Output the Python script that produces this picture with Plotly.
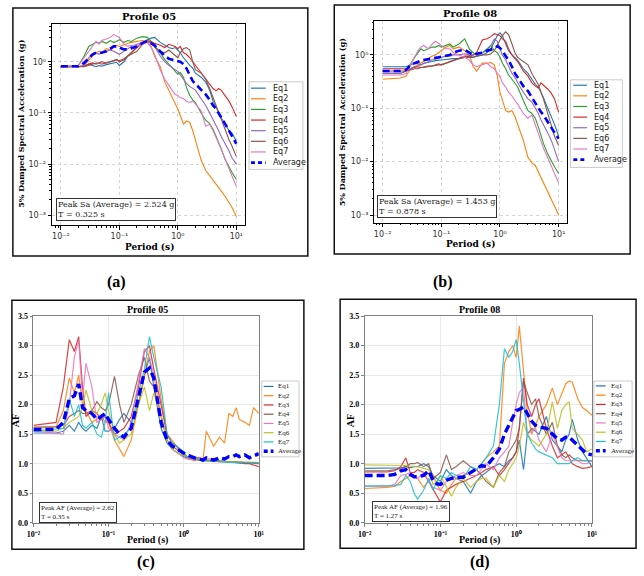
import plotly.graph_objects as go

# ---------------- data ----------------
PERIODS = [0.01, 0.02, 0.025, 0.03, 0.035, 0.04, 0.045, 0.05,
           0.06, 0.07, 0.08, 0.09, 0.1, 0.12, 0.14, 0.16,
           0.2, 0.25, 0.3, 0.35, 0.4, 0.5, 0.6, 0.7,
           0.8, 0.9, 1.0, 1.1, 1.25, 1.4, 1.6, 1.8,
           2.0, 2.5, 3.0, 3.5, 4.0, 4.5, 5.0, 5.5,
           6.5, 7.5, 8.5, 10.0]

NAMES = ["Eq1", "Eq2", "Eq3", "Eq4", "Eq5", "Eq6", "Eq7", "Average"]

# Panel (a): Profile 05 spectral acceleration (g)
SA05_EQ1 = [0.80, 0.80, 0.82, 0.90, 0.85, 0.80, 0.85, 0.82,
            0.88, 0.92, 0.95, 0.98, 0.85, 1.00, 1.30, 1.50,
            2.00, 2.40, 2.70, 2.90, 3.00, 2.40, 2.10, 1.90,
            1.80, 1.90, 1.70, 1.50, 1.20, 1.00, 0.85, 0.75,
            0.60, 0.50, 0.40, 0.28, 0.17, 0.13, 0.10, 0.08,
            0.06, 0.045, 0.040, 0.028]
SA05_EQ2 = [0.80, 0.80, 0.85, 1.10, 1.30, 1.50, 1.60, 1.50,
            1.80, 1.70, 1.90, 2.10, 2.00, 2.20, 2.30, 2.40,
            2.50, 2.60, 2.50, 2.00, 1.30, 0.80, 0.40, 0.28,
            0.20, 0.15, 0.12, 0.09, 0.06, 0.07, 0.065, 0.045,
            0.030, 0.012, 0.0075, 0.006, 0.0048, 0.0042, 0.0035, 0.003,
            0.0023, 0.0018, 0.0014, 0.00095]
SA05_EQ3 = [0.80, 0.85, 1.30, 2.00, 2.20, 2.40, 2.30, 2.50,
            2.30, 2.60, 2.40, 2.50, 2.70, 2.40, 2.60, 2.50,
            2.90, 3.10, 3.00, 2.50, 2.00, 1.50, 1.10, 0.90,
            0.75, 0.65, 0.57, 0.62, 0.50, 0.32, 0.22, 0.18,
            0.16, 0.10, 0.072, 0.062, 0.048, 0.035, 0.025, 0.020,
            0.012, 0.0085, 0.0068, 0.005]
SA05_EQ4 = [0.80, 0.80, 0.82, 0.90, 0.95, 0.90, 0.95, 1.00,
            0.95, 1.00, 1.05, 1.10, 1.00, 1.10, 1.30, 1.50,
            1.90, 2.30, 2.60, 2.50, 2.30, 2.10, 1.90, 2.20,
            2.10, 2.00, 1.80, 2.00, 1.50, 1.40, 1.20, 1.00,
            0.85, 0.60, 0.45, 0.35, 0.30, 0.27, 0.30, 0.28,
            0.22, 0.17, 0.13, 0.085]
SA05_EQ5 = [0.80, 0.80, 0.85, 1.20, 1.40, 1.50, 1.40, 1.50,
            1.60, 1.70, 1.60, 1.50, 1.40, 1.60, 1.80, 2.00,
            2.20, 2.40, 2.50, 2.30, 2.00, 1.30, 1.00, 0.85,
            0.75, 0.70, 0.65, 0.55, 0.45, 0.38, 0.33, 0.30,
            0.28, 0.19, 0.14, 0.10, 0.075, 0.060, 0.045, 0.035,
            0.025, 0.018, 0.013, 0.010]
SA05_EQ6 = [0.80, 0.80, 0.80, 0.85, 0.90, 0.95, 0.95, 0.90,
            0.95, 1.00, 1.05, 1.10, 1.05, 1.15, 1.30, 1.40,
            1.60, 2.20, 2.60, 2.40, 2.00, 1.60, 1.50, 1.70,
            1.50, 1.30, 1.20, 1.50, 1.80, 1.90, 1.70, 1.00,
            0.70, 0.60, 0.45, 0.30, 0.20, 0.15, 0.10, 0.075,
            0.045, 0.030, 0.022, 0.014]
SA05_EQ7 = [0.80, 0.85, 1.20, 1.60, 2.00, 2.50, 2.20, 2.60,
            2.80, 3.00, 3.40, 3.20, 3.00, 2.20, 2.00, 2.10,
            2.00, 2.20, 2.40, 1.90, 1.40, 0.70, 0.45, 0.35,
            0.28, 0.23, 0.22, 0.20, 0.19, 0.17, 0.16, 0.17,
            0.15, 0.11, 0.055, 0.060, 0.045, 0.034, 0.025, 0.020,
            0.012, 0.008, 0.0058, 0.0037]
SA05_AVG = [0.82, 0.82, 0.95, 1.20, 1.40, 1.50, 1.50, 1.50,
            1.60, 1.80, 2.00, 2.00, 1.90, 1.75, 1.75, 1.85,
            2.00, 2.35, 2.52, 2.30, 2.10, 1.60, 1.30, 1.15,
            1.10, 1.08, 1.05, 1.00, 0.90, 0.75, 0.55, 0.42,
            0.37, 0.29, 0.23, 0.18, 0.14, 0.12, 0.10, 0.08,
            0.06, 0.045, 0.035, 0.025]

# Panel (b): Profile 08 spectral acceleration (g)
SA08_EQ1 = [0.60, 0.60, 0.60, 0.65, 0.70, 0.68, 0.65, 0.70,
            0.72, 0.75, 0.78, 0.80, 0.80, 0.82, 0.85, 0.85,
            0.85, 0.90, 0.95, 0.90, 0.95, 1.00, 1.10, 1.30,
            1.70, 2.30, 2.60, 2.30, 1.60, 1.20, 1.00, 0.90,
            0.80, 0.55, 0.45, 0.35, 0.28, 0.25, 0.20, 0.16,
            0.10, 0.07, 0.05, 0.03]
SA08_EQ2 = [0.35, 0.37, 0.40, 0.55, 0.60, 0.65, 0.70, 0.75,
            0.85, 0.95, 1.00, 1.10, 1.20, 1.40, 1.50, 1.30,
            1.40, 1.20, 1.00, 0.60, 0.50, 0.70, 0.70, 0.72,
            0.65, 0.40, 0.20, 0.14, 0.09, 0.085, 0.09, 0.07,
            0.05, 0.025, 0.012, 0.0095, 0.0085, 0.0065, 0.005, 0.004,
            0.0028, 0.002, 0.0015, 0.001]
SA08_EQ3 = [0.45, 0.45, 0.50, 0.70, 0.90, 1.10, 1.30, 1.20,
            1.30, 1.40, 1.40, 1.50, 1.40, 1.50, 1.60, 1.40,
            1.60, 2.00, 1.30, 1.10, 1.00, 1.10, 1.30, 1.50,
            1.20, 1.10, 0.90, 0.70, 0.55, 0.42, 0.35, 0.30,
            0.25, 0.14, 0.09, 0.08, 0.065, 0.045, 0.030, 0.022,
            0.014, 0.010, 0.008, 0.006]
SA08_EQ4 = [0.55, 0.55, 0.55, 0.55, 0.58, 0.60, 0.58, 0.60,
            0.62, 0.62, 0.65, 0.68, 0.65, 0.70, 0.75, 0.80,
            0.85, 0.95, 0.95, 1.00, 1.10, 1.90, 2.00, 2.20,
            2.50, 2.40, 2.30, 2.00, 1.80, 1.30, 1.00, 0.85,
            0.75, 0.50, 0.40, 0.30, 0.26, 0.24, 0.30, 0.27,
            0.23, 0.19, 0.15, 0.085]
SA08_EQ5 = [0.45, 0.45, 0.50, 0.55, 0.60, 0.62, 0.65, 0.70,
            0.75, 0.80, 0.85, 0.85, 0.90, 0.95, 0.95, 1.00,
            1.00, 1.05, 1.00, 1.00, 1.05, 1.10, 1.20, 1.50,
            2.00, 1.80, 1.30, 1.00, 0.80, 0.60, 0.45, 0.38,
            0.30, 0.20, 0.15, 0.13, 0.10, 0.08, 0.06, 0.05,
            0.035, 0.025, 0.017, 0.010]
SA08_EQ6 = [0.50, 0.50, 0.50, 0.52, 0.55, 0.55, 0.58, 0.58,
            0.60, 0.62, 0.65, 0.65, 0.65, 0.70, 0.75, 0.80,
            0.85, 0.90, 0.90, 0.90, 0.95, 1.00, 1.00, 1.05,
            1.20, 1.50, 1.90, 2.30, 2.70, 2.40, 1.60, 1.10,
            0.90, 0.75, 0.65, 0.45, 0.35, 0.28, 0.20, 0.15,
            0.08, 0.045, 0.030, 0.020]
SA08_EQ7 = [0.42, 0.42, 0.45, 0.65, 0.90, 1.20, 1.40, 1.50,
            1.30, 1.60, 1.80, 1.60, 1.50, 1.30, 1.30, 1.10,
            1.00, 0.90, 0.80, 0.65, 0.60, 0.65, 0.70, 0.60,
            0.55, 0.45, 0.40, 0.30, 0.25, 0.20, 0.17, 0.14,
            0.12, 0.08, 0.065, 0.075, 0.05, 0.035, 0.025, 0.018,
            0.012, 0.008, 0.006, 0.004]
SA08_AVG = [0.50, 0.50, 0.52, 0.65, 0.70, 0.75, 0.78, 0.80,
            0.82, 0.85, 0.88, 0.90, 0.92, 0.95, 1.00, 1.10,
            1.20, 1.25, 1.10, 1.00, 1.05, 1.10, 1.20, 1.25,
            1.35, 1.45, 1.35, 1.20, 0.95, 0.80, 0.60, 0.45,
            0.38, 0.26, 0.21, 0.16, 0.13, 0.10, 0.085, 0.075,
            0.055, 0.043, 0.035, 0.027]

# Panel (c): Profile 05 amplification factor
AF05_EQ1 = [1.52, 1.52, 1.55, 1.65, 1.55, 1.70, 1.60, 1.55,
            1.65, 1.60, 1.80, 1.55, 1.55, 1.60, 1.75, 1.85,
            1.70, 2.00, 2.50, 2.80, 2.30, 1.60, 1.35, 1.25,
            1.20, 1.15, 1.12, 1.10, 1.08, 1.07, 1.06, 1.05,
            1.05, 1.04, 1.04, 1.03, 1.03, 1.03, 1.03, 1.03,
            1.02, 1.02, 1.02, 1.02]
AF05_EQ2 = [1.60, 1.62, 1.90, 2.45, 2.20, 2.50, 2.00, 1.90,
            1.70, 1.75, 1.80, 1.70, 1.70, 1.40, 1.25, 1.12,
            1.40, 2.00, 2.50, 2.90, 3.00, 2.10, 1.50, 1.40,
            1.30, 1.25, 1.20, 1.10, 1.08, 1.05, 1.10, 1.05,
            1.55, 1.30, 1.45, 1.35, 1.85, 1.80, 1.95, 1.75,
            1.70, 1.65, 1.95, 1.85]
AF05_EQ3 = [1.65, 1.70, 2.30, 3.10, 2.90, 3.15, 2.30, 1.80,
            1.90, 1.85, 1.75, 1.80, 1.70, 1.50, 1.55, 1.60,
            1.80, 2.30, 2.90, 3.00, 2.60, 2.00, 1.50, 1.35,
            1.30, 1.20, 1.15, 1.12, 1.10, 1.10, 1.10, 1.08,
            1.08, 1.08, 1.05, 1.04, 1.02, 1.02, 1.01, 1.00,
            1.00, 1.00, 0.98, 0.95]
AF05_EQ4 = [1.62, 1.63, 1.65, 1.80, 1.85, 1.90, 1.85, 1.85,
            1.90, 2.05, 1.95, 1.90, 2.00, 2.48, 2.00, 1.70,
            2.00, 2.50, 2.80, 2.40, 2.30, 1.80, 1.40, 1.30,
            1.25, 1.20, 1.15, 1.12, 1.10, 1.08, 1.07, 1.06,
            1.05, 1.05, 1.04, 1.04, 1.03, 1.03, 1.03, 1.02,
            1.02, 1.01, 1.00, 1.00]
AF05_EQ5 = [1.55, 1.52, 1.50, 2.00, 2.80, 3.10, 2.10, 2.70,
            2.30, 1.70, 1.75, 1.80, 1.60, 1.50, 1.45, 1.40,
            1.70, 2.40, 2.95, 2.80, 2.50, 1.80, 1.40, 1.25,
            1.20, 1.15, 1.10, 1.08, 1.07, 1.07, 1.06, 1.05,
            1.05, 1.04, 1.03, 1.03, 1.03, 1.03, 1.03, 1.02,
            1.02, 1.02, 1.02, 1.02]
AF05_EQ6 = [1.55, 1.55, 1.60, 1.70, 1.75, 1.80, 1.95, 2.25,
            1.90, 1.85, 2.00, 2.20, 1.90, 1.50, 1.35, 1.40,
            1.50, 2.00, 2.30, 1.90, 2.20, 1.80, 1.40, 1.25,
            1.20, 1.15, 1.15, 1.12, 1.10, 1.08, 1.07, 1.06,
            1.05, 1.04, 1.04, 1.03, 1.03, 1.03, 1.03, 1.03,
            1.02, 1.02, 1.02, 1.02]
AF05_EQ7 = [1.55, 1.58, 1.60, 2.10, 1.80, 2.00, 1.65, 1.60,
            1.70, 1.50, 1.45, 1.70, 2.20, 1.40, 1.45, 1.50,
            1.60, 2.20, 2.60, 3.15, 2.80, 2.30, 1.50, 1.35,
            1.30, 1.25, 1.20, 1.12, 1.10, 1.08, 1.06, 1.05,
            1.05, 1.04, 1.03, 1.03, 1.02, 1.02, 1.02, 1.02,
            1.02, 1.02, 1.02, 1.02]
AF05_AVG = [1.58, 1.58, 1.70, 2.10, 2.15, 2.35, 1.95, 1.90,
            1.85, 1.75, 1.80, 1.85, 1.75, 1.60, 1.50, 1.45,
            1.60, 2.15, 2.55, 2.62, 2.45, 1.70, 1.40, 1.30,
            1.25, 1.22, 1.18, 1.15, 1.12, 1.10, 1.08, 1.06,
            1.10, 1.06, 1.10, 1.08, 1.12, 1.12, 1.15, 1.12,
            1.15, 1.10, 1.13, 1.17]

# Panel (d): Profile 08 amplification factor
AF08_EQ1 = [0.92, 0.92, 0.92, 0.93, 0.95, 0.93, 0.95, 0.95,
            1.00, 0.95, 0.80, 0.75, 0.70, 0.90, 0.80, 0.75,
            0.70, 0.50, 0.70, 0.80, 0.85, 0.95, 1.00, 0.95,
            1.05, 1.10, 1.20, 1.40, 0.90, 1.50, 1.60, 1.55,
            1.50, 1.80, 1.40, 1.30, 1.20, 1.40, 1.50, 1.75,
            1.40, 1.20, 1.10, 0.95]
AF08_EQ2 = [0.58, 0.60, 0.62, 0.70, 0.75, 0.80, 0.78, 0.75,
            0.60, 0.70, 0.80, 0.65, 0.55, 0.50, 0.65, 0.75,
            0.80, 0.85, 0.90, 1.00, 1.10, 1.20, 1.30, 2.70,
            2.90, 3.00, 2.80, 3.33, 2.50, 1.90, 1.50, 1.65,
            1.80, 2.00, 2.28, 2.00, 2.20, 2.35, 2.40, 2.38,
            2.10, 1.95, 1.90, 1.82]
AF08_EQ3 = [0.86, 0.86, 0.88, 0.95, 1.10, 0.85, 0.85, 0.90,
            0.85, 0.70, 0.55, 0.45, 0.35, 0.55, 0.60, 0.65,
            0.70, 0.75, 0.80, 0.85, 0.90, 0.95, 0.80, 0.90,
            1.00, 1.10, 1.20, 1.60, 2.45, 2.00, 1.80, 2.00,
            2.10, 1.60, 1.30, 1.10, 1.15, 1.20, 1.10, 1.00,
            0.95, 0.92, 0.93, 0.95]
AF08_EQ4 = [0.88, 0.88, 0.90, 0.92, 0.95, 1.00, 1.00, 1.02,
            0.95, 1.00, 0.75, 0.80, 0.85, 1.15, 0.90, 0.95,
            1.05, 0.95, 0.90, 0.80, 0.70, 0.60, 0.85, 0.95,
            1.20, 1.30, 1.40, 1.60, 2.40, 2.20, 2.00, 2.10,
            1.80, 1.50, 1.70, 1.30, 1.15, 1.10, 1.15, 1.10,
            1.05, 1.05, 1.05, 1.05]
AF08_EQ5 = [0.62, 0.62, 0.65, 0.80, 0.82, 0.85, 0.80, 0.75,
            0.85, 0.70, 0.60, 0.58, 0.55, 0.70, 0.75, 0.80,
            0.85, 0.80, 0.80, 0.90, 1.00, 0.90, 1.10, 1.20,
            1.30, 1.70, 2.00, 2.20, 2.30, 1.50, 1.55, 1.60,
            1.40, 1.20, 1.50, 1.30, 1.10, 1.05, 1.05, 1.05,
            1.05, 1.00, 1.00, 1.05]
AF08_EQ6 = [0.98, 0.98, 0.98, 0.98, 0.97, 0.96, 0.95, 0.95,
            0.92, 0.90, 0.65, 0.70, 0.80, 0.60, 0.45, 0.60,
            0.75, 0.60, 0.70, 0.75, 0.75, 0.60, 0.80, 0.70,
            0.90, 1.00, 1.10, 1.30, 1.70, 1.50, 1.40, 1.35,
            1.30, 1.50, 2.05, 1.60, 1.90, 2.00, 2.05, 1.60,
            1.50, 1.40, 1.20, 1.25]
AF08_EQ7 = [0.62, 0.62, 0.63, 0.65, 0.80, 0.70, 0.50, 0.40,
            0.55, 0.75, 0.55, 0.70, 0.80, 0.75, 0.85, 0.80,
            0.75, 0.95, 0.90, 1.00, 1.10, 1.30, 2.00, 2.95,
            2.80, 2.90, 3.10, 2.70, 2.00, 1.50, 1.35, 1.25,
            1.20, 1.15, 1.10, 1.00, 1.00, 1.00, 1.00, 1.05,
            1.10, 1.05, 1.05, 1.05]
AF08_AVG = [0.80, 0.80, 0.82, 0.88, 0.90, 0.82, 0.78, 0.78,
            0.80, 0.88, 0.72, 0.66, 0.65, 0.72, 0.75, 0.77,
            0.77, 0.85, 0.92, 0.97, 0.95, 1.10, 1.25, 1.50,
            1.65, 1.78, 1.90, 1.92, 1.96, 1.85, 1.72, 1.65,
            1.62, 1.60, 1.50, 1.42, 1.40, 1.45, 1.45, 1.40,
            1.30, 1.22, 1.17, 1.15]

PEAK_SA05, PEAK_T_SA05 = 2.524, 0.325
PEAK_SA08, PEAK_T_SA08 = 1.453, 0.878
PEAK_AF05, PEAK_T_AF05 = 2.62, 0.35
PEAK_AF08, PEAK_T_AF08 = 1.96, 1.27

LOG_TICKS_X = [0.01, 0.1, 1, 10]
LOG_TEXT_X = ["10\u207b\u00b2", "10\u207b\u00b9", "10\u2070", "10\u00b9"]
LOG_TICKS_Y = [0.001, 0.01, 0.1, 1]
LOG_TEXT_Y = ["10\u207b\u00b3", "10\u207b\u00b2", "10\u207b\u00b9", "10\u2070"]

# ---------------- styling ----------------
W, H = 644, 576
COLORS_SA = ["#1f77b4", "#ff7f0e", "#2ca02c", "#d62728", "#9467bd", "#8c564b", "#e377c2"]
COLORS_AF = ["#1f77b4", "#ff7f0e", "#d62728", "#8c564b", "#e377c2", "#bcbd22", "#17becf"]
AVG_COLOR = "#0000ff"
SERIF = "DejaVu Serif"
SERIF2 = "Liberation Serif"
SANS = "DejaVu Sans"


def px(x):
    return x / W


def py(y):
    return 1 - y / H


fig = go.Figure()

panels = [
    dict(key="", data=[SA05_EQ1, SA05_EQ2, SA05_EQ3, SA05_EQ4, SA05_EQ5, SA05_EQ6, SA05_EQ7, SA05_AVG],
         kind="sa", colors=COLORS_SA, plot=(46, 20, 243, 225), yrange=[-3.2, 0.745], xrange=[-2.15, 1.15],
         border=(6, 4, 307, 256), title=("Profile 05", 145, 13), xlabel=(145, 247), ylabel=(14, 122),
         tag=("(a)", 112, 282), leg=dict(box=(247, 79, 302, 168), y0=85.5, dy=10.8, lx=(249, 264), tx=269),
         note=(50, 197, "Peak Sa (Average) = %.3f g<br>T = %.3f s" % (PEAK_SA05, PEAK_T_SA05))),
    dict(key="2", data=[SA08_EQ1, SA08_EQ2, SA08_EQ3, SA08_EQ4, SA08_EQ5, SA08_EQ6, SA08_EQ7, SA08_AVG],
         kind="sa", colors=COLORS_SA, plot=(375, 17, 572, 222), yrange=[-3.14, 0.64], xrange=[-2.14, 1.15],
         border=(334, 1, 636, 254), title=("Profile 08", 473, 10), xlabel=(473, 244), ylabel=(342, 120),
         tag=("(b)", 445, 282), leg=dict(box=(575, 77, 628, 166), y0=82.5, dy=10.8, lx=(578, 592), tx=597),
         note=(378, 194, "Peak Sa (Average) = %.3f g<br>T = %.3f s" % (PEAK_SA08, PEAK_T_SA08))),
    dict(key="3", data=[AF05_EQ1, AF05_EQ2, AF05_EQ3, AF05_EQ4, AF05_EQ5, AF05_EQ6, AF05_EQ7, AF05_AVG],
         kind="af", colors=COLORS_AF, plot=(27, 317, 257, 527), yrange=[0, 3.5], xrange=[-2, 1],
         border=(5, 301, 303, 554), title=("Profile 05", 143, 310), xlabel=(143, 544), ylabel=(9, 423),
         tag=("(c)", 142, 567), leg=dict(box=(260, 383, 298, 460), y0=388.5, dy=9.4, lx=(262, 272), tx=275),
         note=(33, 506, "Peak AF (Average) = %.2f<br>T = %.2f s" % (PEAK_AF05, PEAK_T_AF05))),
    dict(key="4", data=[AF08_EQ1, AF08_EQ2, AF08_EQ3, AF08_EQ4, AF08_EQ5, AF08_EQ6, AF08_EQ7, AF08_AVG],
         kind="af", colors=COLORS_AF, plot=(365, 317, 597, 527), yrange=[0, 3.5], xrange=[-2, 1],
         border=(340, 300, 642, 553), title=("Profile 08", 482, 310), xlabel=(482, 544), ylabel=(350, 423),
         tag=("(d)", 483, 567), leg=dict(box=(599, 383, 638, 460), y0=388, dy=9.4, lx=(601, 611), tx=614),
         note=(373, 505, "Peak AF (Average) = %.2f<br>T = %.2f s" % (PEAK_AF08, PEAK_T_AF08))),
]

shapes = []
annotations = []
layout_axes = {}

for p in panels:
    k = p["key"]
    sa = p["kind"] == "sa"
    x0, y0, x1, y1 = p["plot"]
    eq_w = 1.1 if sa else 1.2
    avg_w = 2.6 if sa else 3.4
    avg_dash = "7px,4px" if sa else "8px,4px"
    for i, vals in enumerate(p["data"]):
        is_avg = i == 7
        fig.add_trace(go.Scatter(
            x=PERIODS, y=vals, mode="lines", name=NAMES[i], showlegend=False,
            xaxis="x" + k, yaxis="y" + k,
            opacity=1.0 if (sa or is_avg) else 0.85,
            line=dict(color=AVG_COLOR if is_avg else p["colors"][i],
                      width=avg_w if is_avg else eq_w,
                      dash=avg_dash if is_avg else "solid"),
        ))

    frame_col = "#000000" if sa else "#808080"
    tickfont = dict(family=SANS, size=8, color="#333") if sa else dict(family=SERIF2, size=8, color="#000", weight="bold")
    minor_vals = [m * 10 ** e for e in range(-3, 2) for m in range(2, 10)]
    xa = dict(domain=[px(x0), px(x1)], anchor="y" + k, type="log", range=p["xrange"],
              tickmode="array", tickvals=LOG_TICKS_X, ticktext=LOG_TEXT_X,
              ticks="outside", ticklen=3.5, tickwidth=0.8, tickcolor=frame_col,
              showline=True, linecolor=frame_col, linewidth=0.8, mirror=True,
              showgrid=True, gridcolor="#d4d4d4" if sa else "#e8e8e8", gridwidth=0.6,
              griddash="dot" if sa else "solid", zeroline=False, tickfont=tickfont,
              minor=dict(tickmode="array", tickvals=minor_vals, ticks="outside", ticklen=2,
                         tickwidth=0.6, tickcolor=frame_col, showgrid=False))
    if sa:
        ya = dict(domain=[py(y1), py(y0)], anchor="x" + k, type="log", range=p["yrange"],
                  tickmode="array", tickvals=LOG_TICKS_Y, ticktext=LOG_TEXT_Y,
                  ticks="outside", ticklen=3.5, tickwidth=0.8, tickcolor=frame_col,
                  showline=True, linecolor=frame_col, linewidth=0.8, mirror=True,
                  showgrid=True, gridcolor="#d4d4d4", gridwidth=0.6, griddash="dot",
                  zeroline=False, tickfont=tickfont,
                  minor=dict(tickmode="array", tickvals=minor_vals, ticks="outside", ticklen=2,
                             tickwidth=0.6, tickcolor=frame_col, showgrid=False))
    else:
        ya = dict(domain=[py(y1), py(y0)], anchor="x" + k, range=p["yrange"],
                  tickmode="linear", tick0=0, dtick=0.5, tickformat=".1f",
                  ticks="outside", ticklen=3, tickwidth=0.8, tickcolor=frame_col,
                  showline=True, linecolor=frame_col, linewidth=0.8, mirror=True,
                  showgrid=True, gridcolor="#e8e8e8", gridwidth=0.6, zeroline=False,
                  tickfont=tickfont)
    layout_axes["xaxis" + k] = xa
    layout_axes["yaxis" + k] = ya

    # panel border
    bx0, by0, bx1, by1 = p["border"]
    shapes.append(dict(type="rect", xref="paper", yref="paper", x0=px(bx0), x1=px(bx1),
                       y0=py(by1), y1=py(by0), line=dict(color="#111", width=1.5),
                       fillcolor="rgba(0,0,0,0)", layer="below"))

    tfam = SERIF if sa else SERIF2
    title, tx, ty = p["title"]
    annotations.append(dict(text=title, x=px(tx), y=py(ty), xref="paper", yref="paper",
                            showarrow=False, xanchor="center", yanchor="middle",
                            font=dict(family=tfam, size=10, color="#000", weight="bold")))
    annotations.append(dict(text="Period (s)", x=px(p["xlabel"][0]), y=py(p["xlabel"][1]),
                            xref="paper", yref="paper", showarrow=False, xanchor="center", yanchor="middle",
                            font=dict(family=tfam, size=9 if sa else 10, color="#000", weight="bold")))
    annotations.append(dict(text="5% Damped Spectral Acceleration (g)" if sa else "AF",
                            x=px(p["ylabel"][0]), y=py(p["ylabel"][1]), textangle=-90,
                            xref="paper", yref="paper", showarrow=False, xanchor="center", yanchor="middle",
                            font=dict(family=tfam, size=8 if sa else 10, color="#000", weight="bold")))
    tag, gx, gy = p["tag"]
    annotations.append(dict(text=tag, x=px(gx), y=py(gy), xref="paper", yref="paper",
                            showarrow=False, xanchor="center", yanchor="middle",
                            font=dict(family=SERIF2, size=16, color="#000", weight="bold")))

    nx, ny, ntext = p["note"]
    annotations.append(dict(text=ntext, x=px(nx), y=py(ny), xref="paper", yref="paper",
                            showarrow=False, xanchor="left", yanchor="top", align="left",
                            bordercolor="#333", borderwidth=1, borderpad=1, bgcolor="white",
                            font=dict(family=SERIF if sa else SERIF2, size=8 if sa else 7, color="#222")))

    # legend (drawn manually for compact spacing)
    lg = p["leg"]
    lbx0, lby0, lbx1, lby1 = lg["box"]
    shapes.append(dict(type="rect", xref="paper", yref="paper", x0=px(lbx0), x1=px(lbx1),
                       y0=py(lby1), y1=py(lby0), line=dict(color="#bdbdbd", width=0.8),
                       fillcolor="white"))
    for i, nm in enumerate(NAMES):
        yy = lg["y0"] + i * lg["dy"]
        is_avg = i == 7
        shapes.append(dict(type="line", xref="paper", yref="paper",
                           x0=px(lg["lx"][0]), x1=px(lg["lx"][1]), y0=py(yy), y1=py(yy),
                           line=dict(color=AVG_COLOR if is_avg else p["colors"][i],
                                     width=(avg_w if is_avg else 1.2),
                                     dash=("4px,3px" if is_avg else "solid"))))
        annotations.append(dict(text=nm, x=px(lg["tx"]), y=py(yy), xref="paper", yref="paper",
                                showarrow=False, xanchor="left", yanchor="middle",
                                font=dict(family=SANS if sa else SERIF2, size=8 if sa else 7, color="#222")))

fig.update_layout(
    width=W, height=H, margin=dict(l=0, r=0, t=0, b=0),
    paper_bgcolor="white", plot_bgcolor="white", showlegend=False,
    shapes=shapes, annotations=annotations, **layout_axes,
)

fig.write_html("out.html")
